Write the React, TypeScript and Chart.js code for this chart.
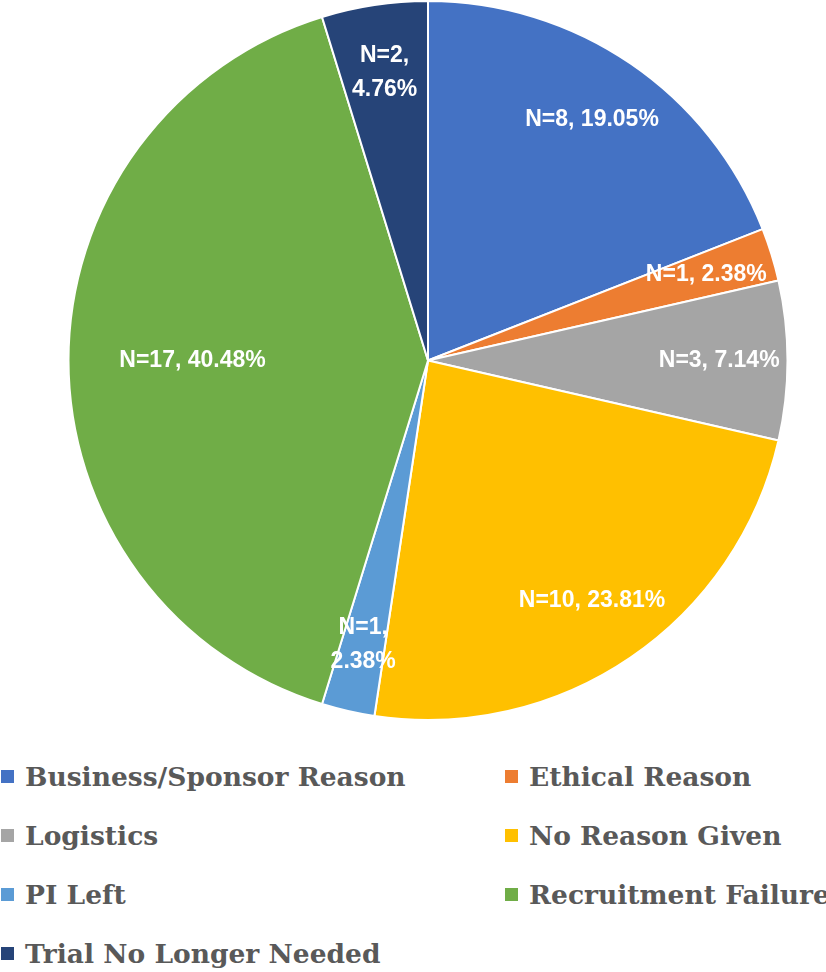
import React, { useEffect, useRef } from "react";
import { Chart, registerables } from "chart.js";

Chart.register(...registerables);

const categories = [
  "Business/Sponsor Reason",
  "Ethical Reason",
  "Logistics",
  "No Reason Given",
  "PI Left",
  "Recruitment Failure",
  "Trial No Longer Needed",
];
const counts = [8, 1, 3, 10, 1, 17, 2];
const colors = ["#4472C4", "#ED7D31", "#A5A5A5", "#FFC000", "#5B9BD5", "#70AD47", "#264478"];

const sliceLabels = {
  id: "sliceLabels",
  afterDatasetsDraw(chart: any) {
    const ctx = chart.ctx as CanvasRenderingContext2D;
    const meta = chart.getDatasetMeta(0);
    const data = chart.data.datasets[0].data as number[];
    const total = data.reduce((a, b) => a + b, 0);
    ctx.save();
    ctx.font = "bold 23px 'Liberation Sans', Arial, sans-serif";
    ctx.fillStyle = "#ffffff";
    ctx.textAlign = "center";
    ctx.textBaseline = "middle";
    meta.data.forEach((arc: any, i: number) => {
      const p = arc.getProps(["x", "y", "startAngle", "endAngle", "outerRadius"], true);
      const frac = data[i] / total;
      const mid = (p.startAngle + p.endAngle) / 2;
      const rf = frac > 0.35 ? 0.655 : 0.81;
      const r = p.outerRadius * rf;
      const px = p.x + Math.cos(mid) * r;
      const py = p.y + Math.sin(mid) * r;
      const first = `N=${data[i]},`;
      const second = `${(frac * 100).toFixed(2)}%`;
      const full = `${first} ${second}`;
      const w = ctx.measureText(full).width;
      const span = r * (p.endAngle - p.startAngle);
      const across = span / Math.max(Math.abs(Math.sin(mid)), 0.01);
      if (across < w) {
        ctx.fillText(first, px, py - 17);
        ctx.fillText(second, px, py + 17);
      } else {
        ctx.fillText(full, px, py);
      }
    });
    ctx.restore();
  },
};

export default function App() {
  const ref = useRef<HTMLCanvasElement>(null);
  useEffect(() => {
    document.body.style.margin = "0";
    const chart = new Chart(ref.current!, {
      type: "pie",
      data: {
        labels: categories,
        datasets: [
          {
            data: counts,
            backgroundColor: colors,
            borderColor: "#ffffff",
            borderWidth: 2,
          },
        ],
      },
      options: {
        responsive: false,
        animation: false,
        layout: { padding: { left: 30, right: 0, top: 0, bottom: 1 } },
        plugins: {
          legend: { display: false },
          tooltip: { enabled: false },
        },
      },
      plugins: [sliceLabels],
    });
    return () => chart.destroy();
  }, []);

  return (
    <div style={{ width: 826 }}>
      <canvas ref={ref} width={826} height={722} style={{ display: "block" }} />
      <div
        style={{
          display: "grid",
          gridTemplateColumns: "504px 322px",
          marginTop: 25,
          fontFamily: "'DejaVu Serif', serif",
          fontWeight: "bold",
          fontSize: 26.5,
          color: "#595959",
        }}
      >
        {categories.map((c, i) => (
          <div
            key={c}
            style={{
              display: "flex",
              alignItems: "center",
              height: 59,
              paddingLeft: 1,
              whiteSpace: "nowrap",
            }}
          >
            <span
              style={{
                width: 13,
                height: 13,
                background: colors[i],
                marginRight: 11,
                flex: "none",
                display: "inline-block",
              }}
            />
            {c}
          </div>
        ))}
      </div>
    </div>
  );
}
